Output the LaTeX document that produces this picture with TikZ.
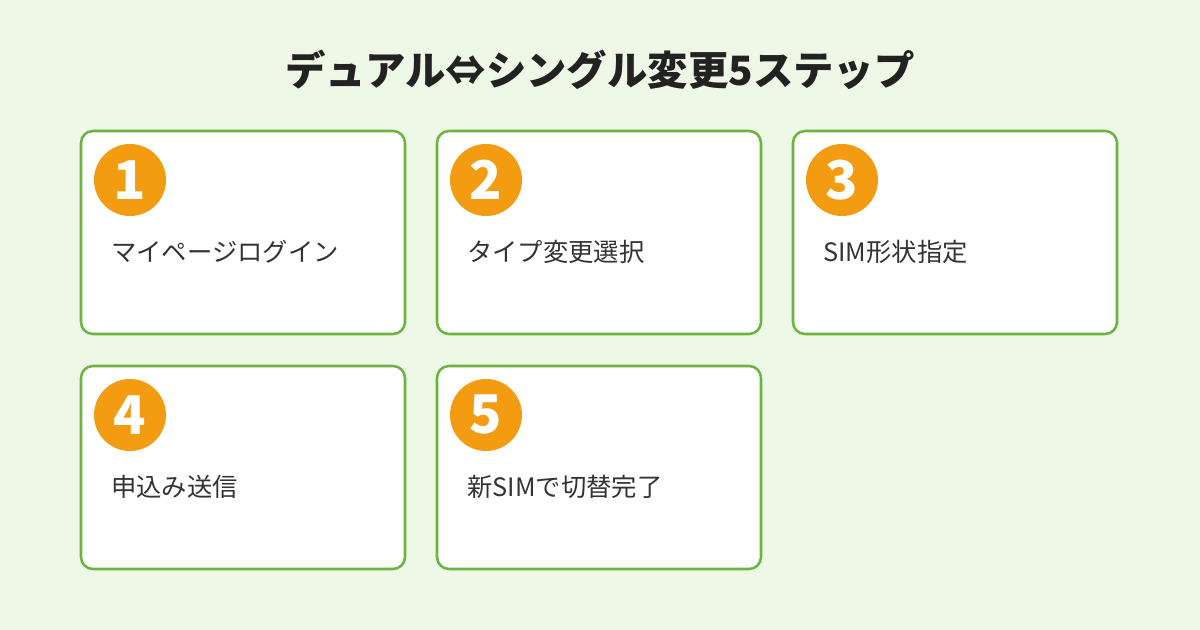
\documentclass[tikz,border=0pt]{standalone}
\usepackage{fontspec}
\setmainfont{Noto Sans CJK JP}
\begin{document}
\begin{tikzpicture}[x=0.75pt,y=-0.75pt,
  box/.style={draw=stepgreen,line width=1.9pt,fill=white,rounded corners=9pt},
  num/.style={circle,fill=steporange,minimum size=54pt,inner sep=0pt,text=white,font=\fontsize{40}{40}\selectfont\bfseries},
  lbl/.style={anchor=west,text=textdark,font=\fontsize{19}{21}\selectfont,inner sep=0pt}]
\definecolor{bg}{HTML}{EEF8E6}
\definecolor{stepgreen}{HTML}{6DB33F}
\definecolor{steporange}{HTML}{F39C12}
\definecolor{textdark}{HTML}{333333}
\definecolor{titledark}{HTML}{222222}
\fill[bg] (0,0) rectangle (1200,630);
\useasboundingbox (0,0) rectangle (1200,630);
\node[text=titledark,font=\fontsize{30.3}{33}\selectfont\bfseries] (title) at (600,70) {デュアル⇔シングル変更5ステップ};
\foreach \i/\x/\y/\t in {1/81/131/マイページログイン,2/437/131/タイプ変更選択,3/793/131/SIM形状指定,4/81/366/申込み送信,5/437/366/新SIMで切替完了}{
  \draw[box] (\x,\y) rectangle ++(324,203);
  \node[num] (n\i) at (\x+49,\y+49) {\i};
  \node[lbl] (t\i) at (\x+30,\y+121) {\t};
}
\end{tikzpicture}
\end{document}
